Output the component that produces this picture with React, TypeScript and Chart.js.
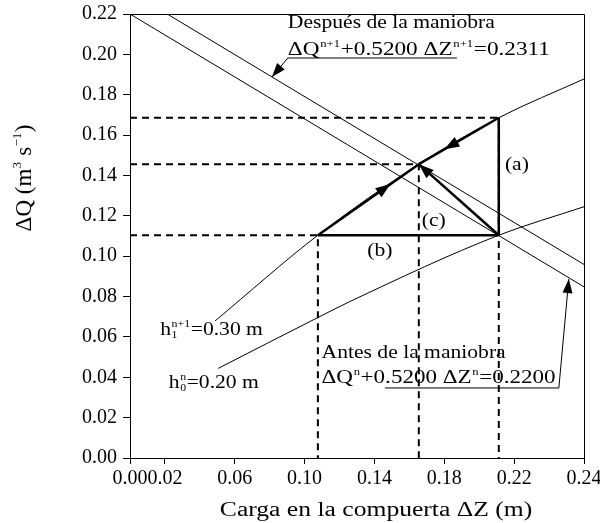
import React, { useEffect, useRef } from "react";
import { Chart, registerables } from "chart.js";

Chart.register(...registerables);

// ---------- data ----------
const xTickValues = [0, 0.02, 0.06, 0.1, 0.14, 0.18, 0.22, 0.26];
const xTickLabels = ["0.00", "0.02", "0.06", "0.10", "0.14", "0.18", "0.22", "0.24"];
const yTickValues = [0, 0.02, 0.04, 0.06, 0.08, 0.1, 0.12, 0.14, 0.16, 0.18, 0.2, 0.22];

// gate curve h1^{n+1} = 0.30 m
const h1Z = [0.0487, 0.1076, 0.1654, 0.2112, 0.26];
const h1Q = [0.0679, 0.1104, 0.1456, 0.1686, 0.1878];
// gate curve h0^n = 0.20 m
const h0Z = [0.0505, 0.1078, 0.1259, 0.2112, 0.26];
const h0Q = [0.0444, 0.0697, 0.0775, 0.1104, 0.1245];

// "Antes" line  ΔQ + 0.52 ΔZ = 0.2200
const antesZ = [0, 0.26];
const antesQ = [0.22, 0.0848];
// "Después" line ΔQ + 0.52 ΔZ = 0.2311
const despuesZ = [0.0213, 0.26];
const despuesQ = [0.22, 0.0959];

// key solution points
const zB = 0.1076; // left end of (b)
const zC = 0.1654; // final solution
const zA = 0.2112; // (a)
const qLow = 0.1104;
const qMid = 0.1456;
const qTop = 0.1686;

const FAMILY = "'Liberation Serif', 'Times New Roman', Times, serif";

type Seg = { t?: string; sup?: string; sub?: string };
type Note = { segs: Seg[]; x: number; y: number; align?: "left" | "right" | "center"; size: number; sx: number };

const notes: Note[] = [
  { segs: [{ t: "Después de la maniobra" }], x: 0.0904, y: 0.2131, size: 18, sx: 1.2 },
  {
    segs: [{ t: "ΔQ" }, { sup: "n+1" }, { t: "+0.5200 ΔZ" }, { sup: "n+1" }, { t: "=0.2311" }],
    x: 0.0904, y: 0.1997, size: 18, sx: 1.29,
  },
  { segs: [{ t: "Antes de la maniobra" }], x: 0.1097, y: 0.0496, size: 18, sx: 1.2 },
  {
    segs: [{ t: "ΔQ" }, { sup: "n" }, { t: "+0.5200 ΔZ" }, { sup: "n" }, { t: "=0.2200" }],
    x: 0.1097, y: 0.0372, size: 18, sx: 1.28,
  },
  { segs: [{ t: "h" }, { sub: "1", sup: "n+1" }, { t: "=0.30 m" }], x: 0.0761, y: 0.061, align: "right", size: 18, sx: 1.2 },
  { segs: [{ t: "h" }, { sub: "0", sup: "n" }, { t: "=0.20 m" }], x: 0.0738, y: 0.0347, align: "right", size: 18, sx: 1.2 },
  { segs: [{ t: "(a)" }], x: 0.2147, y: 0.1427, size: 18, sx: 1.2 },
  { segs: [{ t: "(b)" }], x: 0.1431, y: 0.1001, align: "center", size: 18, sx: 1.2 },
  { segs: [{ t: "(c)" }], x: 0.1671, y: 0.115, size: 18, sx: 1.2 },
];

function font(size: number) {
  return `${size}px ${FAMILY}`;
}

function richWidth(ctx: CanvasRenderingContext2D, segs: Seg[], size: number) {
  let w = 0;
  for (const s of segs) {
    if (s.t) {
      ctx.font = font(size);
      w += ctx.measureText(s.t).width;
    } else {
      ctx.font = font(size * 0.55);
      const a = s.sup ? ctx.measureText(s.sup).width : 0;
      const b = s.sub ? ctx.measureText(s.sub).width : 0;
      w += Math.max(a, b) + 1;
    }
  }
  return w;
}

function drawRich(ctx: CanvasRenderingContext2D, segs: Seg[], x: number, y: number, size: number, align: string, sx: number) {
  const w = richWidth(ctx, segs, size);
  ctx.save();
  ctx.translate(x, y);
  ctx.scale(sx, 1);
  let cx = align === "left" ? 0 : align === "right" ? -w : -w / 2;
  ctx.textBaseline = "alphabetic";
  ctx.textAlign = "left";
  ctx.fillStyle = "#000";
  for (const s of segs) {
    if (s.t) {
      ctx.font = font(size);
      ctx.fillText(s.t, cx, 0);
      cx += ctx.measureText(s.t).width;
    } else {
      ctx.font = font(size * 0.55);
      let adv = 0;
      if (s.sup) {
        ctx.fillText(s.sup, cx + 0.5, -size * 0.42);
        adv = Math.max(adv, ctx.measureText(s.sup).width);
      }
      if (s.sub) {
        ctx.fillText(s.sub, cx + 0.5, size * 0.18);
        adv = Math.max(adv, ctx.measureText(s.sub).width);
      }
      cx += adv + 1;
    }
  }
  ctx.restore();
}

function arrowHead(ctx: CanvasRenderingContext2D, fx: number, fy: number, tx: number, ty: number, len = 15, wid = 11) {
  const a = Math.atan2(ty - fy, tx - fx);
  ctx.save();
  ctx.translate(tx, ty);
  ctx.rotate(a);
  ctx.beginPath();
  ctx.moveTo(0, 0);
  ctx.lineTo(-len, -wid / 2);
  ctx.lineTo(-len, wid / 2);
  ctx.closePath();
  ctx.fillStyle = "#000";
  ctx.fill();
  ctx.restore();
}

const pts = (zs: number[], qs: number[]) => zs.map((z, i) => ({ x: z, y: qs[i] }));

export default function App() {
  const ref = useRef<HTMLCanvasElement>(null);

  useEffect(() => {
    const canvas = ref.current!;

    const thin = { showLine: true, borderColor: "#000", borderWidth: 1, pointRadius: 0, fill: false };
    const thick = { showLine: true, borderColor: "#000", borderWidth: 2.5, pointRadius: 0, fill: false };
    const dashed = { showLine: true, borderColor: "#000", borderWidth: 2, borderDash: [7, 5], pointRadius: 0, fill: false };

    const annotPlugin = {
      id: "annot",
      afterDraw(chart: any) {
        const { ctx, chartArea: ca, scales } = chart;
        const X = (v: number) => scales.x.getPixelForValue(v);
        const Y = (v: number) => scales.y.getPixelForValue(v);
        ctx.save();
        // frame top and right
        ctx.strokeStyle = "#000";
        ctx.lineWidth = 1;
        ctx.beginPath();
        ctx.moveTo(ca.left, Math.round(ca.top) + 0.5);
        ctx.lineTo(Math.round(ca.right) + 0.5, Math.round(ca.top) + 0.5);
        ctx.lineTo(Math.round(ca.right) + 0.5, ca.bottom);
        ctx.stroke();

        // arrow heads on the solution path
        arrowHead(ctx, X(zA), Y(qLow), X(zC), Y(qMid));
        const f1 = 0.72;
        arrowHead(ctx, X(zB), Y(qLow), X(zB + (zC - zB) * f1), Y(qLow + (qMid - qLow) * f1));
        const f2 = 0.68;
        arrowHead(ctx, X(zA), Y(qTop), X(zA + (zC - zA) * f2), Y(qTop + (qMid - qTop) * f2));
        // leader arrows
        arrowHead(ctx, X(0.0904), Y(0.1982), X(0.0813), Y(0.1888), 14, 10);
        arrowHead(ctx, X(0.2456), Y(0.0347), X(0.2513), Y(0.0887), 14, 10);

        // texts
        for (const n of notes) {
          drawRich(ctx, n.segs, X(n.x), Y(n.y), n.size, n.align || "left", n.sx);
        }

        // axis titles
        drawRich(ctx, [{ t: "Carga en la compuerta ΔZ (m)" }], (ca.left + ca.right) / 2 + 19, 516, 20, "center", 1.28);
        ctx.save();
        ctx.translate(31, 178);
        ctx.rotate(-Math.PI / 2);
        drawRich(ctx, [{ t: "ΔQ (m" }, { sup: "3" }, { t: " s" }, { sup: "−1" }, { t: ")" }], 0, 0, 23, "center", 1);
        ctx.restore();
        ctx.restore();
      },
    };

    const chart = new Chart(canvas, {
      type: "scatter",
      data: {
        datasets: [
          { ...thin, data: pts(h1Z, h1Q), cubicInterpolationMode: "monotone" },
          { ...thin, data: pts(h0Z, h0Q), cubicInterpolationMode: "monotone" },
          { ...thin, data: pts(antesZ, antesQ) },
          { ...thin, data: pts(despuesZ, despuesQ) },
          { ...dashed, data: pts([0, zA, zA], [qTop, qTop, 0]) },
          { ...dashed, data: pts([0, zC, zC], [qMid, qMid, 0]) },
          { ...dashed, data: pts([0, zB, zB], [qLow, qLow, 0]) },
          { ...thick, data: pts([zA, zA], [qLow, qTop]) },
          { ...thick, data: pts([zB, zA], [qLow, qLow]) },
          { ...thick, data: pts([zA, zC], [qLow, qMid]) },
          { ...thick, data: pts([zB, zC], [qLow, qMid]) },
          { ...thick, data: pts([zA, zC], [qTop, qMid]) },
          // underlines and leaders
          { ...thin, data: pts([0.1872, 0.0904, 0.0813], [0.1982, 0.1982, 0.1888]) },
          { ...thin, data: pts([0.146, 0.2456, 0.2513], [0.0347, 0.0347, 0.0887]) },
        ] as any,
      },
      options: {
        responsive: false,
        animation: false,
        devicePixelRatio: 1,
        events: [],
        layout: { padding: { top: 14, right: 16, left: 0, bottom: 0 } },
        plugins: { legend: { display: false }, tooltip: { enabled: false } },
        scales: {
          x: {
            type: "linear",
            min: 0,
            max: 0.26,
            grid: { display: true, drawOnChartArea: false, drawTicks: true, tickLength: 6, color: "#000" },
            border: { display: true, color: "#000", width: 1 },
            afterBuildTicks: (s: any) => {
              s.ticks = xTickValues.map((v) => ({ value: v }));
            },
            afterFit: (s: any) => {
              s.height = 65;
              s.paddingLeft = 0;
              s.paddingRight = 0;
            },
            ticks: {
              color: "#000",
              font: { family: FAMILY, size: 20 },
              padding: 3,
              autoSkip: false,
              maxRotation: 0,
              callback: (_v: any, i: number) => xTickLabels[i],
            },
          },
          y: {
            type: "linear",
            min: 0,
            max: 0.22,
            grid: { display: true, drawOnChartArea: false, drawTicks: true, tickLength: 7, color: "#000" },
            border: { display: true, color: "#000", width: 1 },
            afterBuildTicks: (s: any) => {
              s.ticks = yTickValues.map((v) => ({ value: v }));
            },
            afterFit: (s: any) => {
              s.width = 130;
              s.paddingTop = 0;
              s.paddingBottom = 0;
            },
            ticks: {
              color: "#000",
              font: { family: FAMILY, size: 20 },
              padding: 6,
              autoSkip: false,
              callback: (v: any) => Number(v).toFixed(2),
            },
          },
        },
      } as any,
      plugins: [annotPlugin],
    });

    return () => chart.destroy();
  }, []);

  return (
    <div style={{ position: "absolute", left: 0, top: 0, width: 600, height: 523, background: "#fff" }}>
      <canvas ref={ref} width={600} height={523} style={{ display: "block", width: 600, height: 523 }} />
    </div>
  );
}
